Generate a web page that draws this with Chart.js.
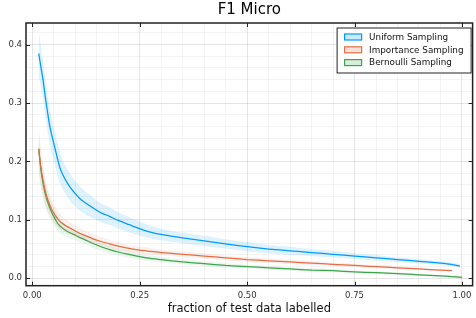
<!DOCTYPE html>
<html>
<head>
<meta charset="utf-8">
<script src="https://cdn.jsdelivr.net/npm/chart.js@4/dist/chart.umd.min.js"></script>
<style>
html,body{margin:0;padding:0;background:#fff;}
canvas{display:block;}
</style>
</head>
<body>
<canvas id="c" width="476" height="318"></canvas>
<script>
// ---- data ----
const seriesNames = ["Uniform Sampling", "Importance Sampling", "Bernoulli Sampling"];

const xUniform = [0.015,0.02,0.025,0.03,0.035,0.04,0.045,0.05,0.055,0.06,0.065,0.07,0.08,0.09,0.10,0.11,0.12,0.14,0.16,0.18,0.20,0.225,0.25,0.275,0.30,0.35,0.40,0.45,0.50,0.55,0.60,0.65,0.70,0.75,0.80,0.85,0.90,0.95,0.975,0.995];
const yUniform = [0.385,0.362,0.340,0.312,0.287,0.263,0.246,0.231,0.216,0.201,0.188,0.179,0.165,0.154,0.145,0.137,0.131,0.121,0.112,0.106,0.099,0.092,0.085,0.079,0.075,0.069,0.064,0.059,0.054,0.050,0.047,0.044,0.041,0.038,0.035,0.032,0.029,0.026,0.024,0.021];
const eUniform = [0.038,0.036,0.034,0.033,0.032,0.031,0.030,0.029,0.028,0.027,0.026,0.025,0.024,0.023,0.022,0.021,0.020,0.018,0.016,0.015,0.014,0.013,0.012,0.011,0.010,0.009,0.009,0.008,0.008,0.007,0.007,0.006,0.006,0.005,0.005,0.004,0.004,0.003,0.003,0.003];

const xImportance = [0.015,0.02,0.025,0.03,0.035,0.04,0.045,0.05,0.055,0.06,0.065,0.07,0.08,0.09,0.10,0.11,0.12,0.14,0.16,0.18,0.20,0.225,0.25,0.275,0.30,0.35,0.40,0.45,0.50,0.55,0.60,0.65,0.70,0.75,0.80,0.85,0.90,0.95,0.977];
const yImportance = [0.220,0.190,0.168,0.150,0.137,0.127,0.118,0.112,0.106,0.101,0.097,0.094,0.089,0.085,0.081,0.077,0.074,0.068,0.063,0.059,0.055,0.051,0.048,0.046,0.044,0.041,0.038,0.035,0.032,0.030,0.028,0.026,0.024,0.022,0.020,0.018,0.016,0.014,0.013];
const eImportance = [0.040,0.033,0.028,0.024,0.021,0.019,0.017,0.016,0.015,0.014,0.013,0.012,0.011,0.010,0.010,0.009,0.009,0.008,0.008,0.007,0.007,0.006,0.006,0.006,0.005,0.005,0.005,0.004,0.004,0.004,0.004,0.003,0.003,0.003,0.003,0.003,0.002,0.002,0.002];

const xBernoulli = [0.015,0.02,0.025,0.03,0.035,0.04,0.045,0.05,0.055,0.06,0.065,0.07,0.08,0.09,0.10,0.11,0.12,0.14,0.16,0.18,0.20,0.225,0.25,0.275,0.30,0.35,0.40,0.45,0.50,0.55,0.60,0.65,0.70,0.75,0.80,0.85,0.90,0.95,0.975,1.0];
const yBernoulli = [0.222,0.186,0.163,0.145,0.132,0.122,0.113,0.106,0.099,0.093,0.089,0.086,0.081,0.077,0.074,0.070,0.067,0.060,0.054,0.049,0.045,0.041,0.037,0.034,0.032,0.028,0.025,0.022,0.020,0.018,0.016,0.014,0.013,0.011,0.0095,0.008,0.006,0.004,0.003,0.0017];
const eBernoulli = [0.035,0.028,0.024,0.021,0.019,0.017,0.016,0.015,0.014,0.013,0.012,0.011,0.010,0.010,0.009,0.009,0.008,0.008,0.007,0.007,0.006,0.006,0.005,0.005,0.005,0.004,0.004,0.004,0.003,0.003,0.003,0.003,0.003,0.002,0.002,0.002,0.002,0.002,0.002,0.002];

const xTickLabels = ["0.00","0.25","0.50","0.75","1.00"];
const yTickLabels = ["0.0","0.1","0.2","0.3","0.4"];

// ---- styling ----
const colors = ["#009AFA", "#E36F47", "#3EA44E"];
const fills  = ["rgba(0,154,250,0.13)", "rgba(227,111,71,0.10)", "rgba(62,164,78,0.10)"];
const swatchFills = ["rgba(0,154,250,0.2)", "rgba(227,111,71,0.2)", "rgba(62,164,78,0.2)"];
const FONT = "'DejaVu Sans', sans-serif";

const series = [
  [xUniform, yUniform, eUniform],
  [xImportance, yImportance, eImportance],
  [xBernoulli, yBernoulli, eBernoulli]
];

const datasets = [];
series.forEach(([xs, ys, es], i) => {
  datasets.push({
    label: seriesNames[i] + " upper",
    data: xs.map((x, k) => ({x, y: ys[k] + es[k]})),
    borderWidth: 0, pointRadius: 0, fill: '+1', tension: 0.3,
    backgroundColor: fills[i], borderColor: 'rgba(0,0,0,0)'
  });
  datasets.push({
    label: seriesNames[i] + " lower",
    data: xs.map((x, k) => ({x, y: ys[k] - es[k]})),
    borderWidth: 0, pointRadius: 0, fill: false, tension: 0.3,
    borderColor: 'rgba(0,0,0,0)'
  });
});
series.forEach(([xs, ys], i) => {
  datasets.push({
    label: seriesNames[i],
    data: xs.map((x, k) => ({x, y: ys[k]})),
    borderColor: colors[i], borderWidth: 1.25, pointRadius: 0, fill: false, tension: 0.2
  });
});

function range(a, b, step) {
  const out = [];
  for (let v = a; v <= b + 1e-9; v += step) out.push(Math.round(v * 1000) / 1000);
  return out;
}
const xMajor = xTickLabels.map(Number);
const yMajor = yTickLabels.map(Number);
const isMajor = (v, majors) => majors.some(m => Math.abs(m - v) < 1e-6);

const framePlugin = {
  id: 'frame',
  afterDatasetsDraw(chart) {
    const {ctx, chartArea: a, scales} = chart;
    ctx.save();
    ctx.strokeStyle = '#222';
    ctx.lineWidth = 1;
    xMajor.forEach(v => {
      const px = Math.round(scales.x.getPixelForValue(v)) + 0.5;
      ctx.beginPath();
      ctx.moveTo(px, a.bottom); ctx.lineTo(px, a.bottom - 4);
      ctx.moveTo(px, a.top); ctx.lineTo(px, a.top + 4);
      ctx.stroke();
    });
    yMajor.forEach(v => {
      const py = Math.round(scales.y.getPixelForValue(v)) + 0.5;
      ctx.beginPath();
      ctx.moveTo(a.left, py); ctx.lineTo(a.left + 4, py);
      ctx.moveTo(a.right, py); ctx.lineTo(a.right - 4, py);
      ctx.stroke();
    });
    ctx.lineWidth = 1.5;
    ctx.strokeRect(a.left, a.top, a.right - a.left, a.bottom - a.top);

    // legend
    const w = 135, h = 46;
    const lx = a.right - 1 - w, ly = a.top + 4.5;
    ctx.fillStyle = '#fff';
    ctx.fillRect(lx, ly, w, h);
    ctx.lineWidth = 1;
    ctx.strokeStyle = '#222';
    ctx.strokeRect(lx + 0.5, ly + 0.5, w - 1, h - 1);
    ctx.font = "8.8px " + FONT;
    ctx.textBaseline = 'middle';
    ctx.textAlign = 'left';
    seriesNames.forEach((name, i) => {
      const cy = ly + 9.5 + i * 12.8;
      ctx.fillStyle = swatchFills[i];
      ctx.fillRect(lx + 8, cy - 3, 17, 6);
      ctx.strokeStyle = colors[i];
      ctx.lineWidth = 1.2;
      ctx.strokeRect(lx + 8, cy - 3, 17, 6);
      ctx.fillStyle = '#111';
      ctx.fillText(name, lx + 32.5, cy + 0.5);
    });
    ctx.restore();
  }
};

new Chart(document.getElementById('c'), {
  type: 'line',
  data: {datasets},
  plugins: [framePlugin],
  options: {
    responsive: false,
    animation: false,
    devicePixelRatio: 1,
    layout: {padding: {left: 0, right: 1, top: 0, bottom: 0}},
    plugins: {
      legend: {display: false},
      tooltip: {enabled: false},
      title: {
        display: true, text: 'F1 Micro', fullSize: false,
        color: '#000', font: {family: FONT, size: 15, weight: 'normal'},
        padding: {top: 1.5, bottom: 3.5}
      }
    },
    scales: {
      x: {
        type: 'linear', min: -0.0146, max: 1.0248,
        afterBuildTicks: s => { s.ticks = range(0, 1, 0.05).map(v => ({value: v})); },
        afterFit: s => { s.height = 32.3; },
        ticks: {
          autoSkip: false, maxRotation: 0, padding: 4.5,
          color: '#333', font: {family: FONT, size: 8.5},
          callback: v => isMajor(v, xMajor) ? xTickLabels[xMajor.findIndex(m => Math.abs(m - v) < 1e-6)] : ''
        },
        grid: {
          drawTicks: false, lineWidth: 1,
          color: c => isMajor(c.tick.value, xMajor) ? 'rgba(0,0,0,0.10)' : 'rgba(0,0,0,0.045)'
        },
        border: {display: false},
        title: {
          display: true, text: 'fraction of test data labelled', color: '#111',
          font: {family: FONT, size: 11.5}, padding: {top: 0, bottom: 2.5}
        }
      },
      y: {
        type: 'linear', min: -0.0127, max: 0.437,
        afterBuildTicks: s => { s.ticks = range(0, 0.42, 0.02).map(v => ({value: v})); },
        afterFit: s => { s.width = 26; },
        ticks: {
          autoSkip: false, padding: 4,
          color: '#333', font: {family: FONT, size: 8.5},
          callback: v => isMajor(v, yMajor) ? yTickLabels[yMajor.findIndex(m => Math.abs(m - v) < 1e-6)] : ''
        },
        grid: {
          drawTicks: false, lineWidth: 1,
          color: c => isMajor(c.tick.value, yMajor) ? 'rgba(0,0,0,0.10)' : 'rgba(0,0,0,0.045)'
        },
        border: {display: false}
      }
    }
  }
});
</script>
</body>
</html>
